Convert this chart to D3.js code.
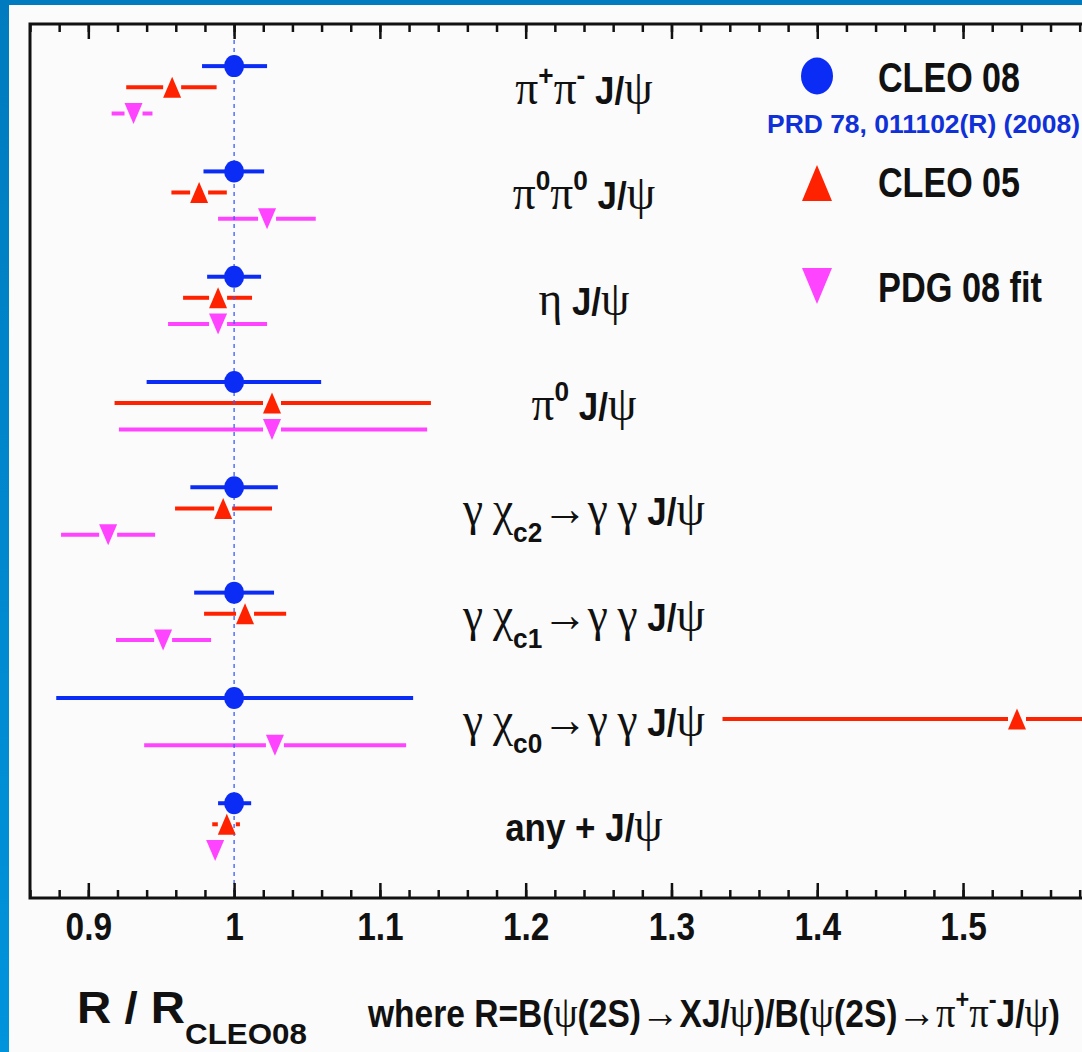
<!DOCTYPE html>
<html>
<head>
<meta charset="utf-8">
<script src="https://cdn.jsdelivr.net/npm/d3@7"></script>
<style>
  body { margin: 0; background: #fbfbfb; }
  svg { display: block; }
  text { white-space: pre; }
</style>
</head>
<body>
<svg id="chart"></svg>
<script>
// channels, written the ROOT TLatex way
var channels = [
  "#pi^{+}#pi^{-} J/#psi",
  "#pi^{0}#pi^{0} J/#psi",
  "#eta J/#psi",
  "#pi^{0} J/#psi",
  "#gamma #chi_{c2}#rightarrow#gamma #gamma J/#psi",
  "#gamma #chi_{c1}#rightarrow#gamma #gamma J/#psi",
  "#gamma #chi_{c0}#rightarrow#gamma #gamma J/#psi",
  "any + J/#psi"
];

// CLEO 08 (reference, so always 1)
var cleo08   = [1, 1, 1, 1, 1, 1, 1, 1];
var cleo08Lo = [0.978, 0.979, 0.9815, 0.940, 0.970, 0.9726, 0.878, 0.989];
var cleo08Hi = [1.0226, 1.0206, 1.0185, 1.0597, 1.030, 1.0274, 1.1228, 1.0117];

// CLEO 05
var cleo05   = [0.9575, 0.976, 0.989, 1.026, 0.9925, 1.0075, 1.537, 0.995];
var cleo05Lo = [0.926, 0.957, 0.965, 0.918, 0.9595, 0.9794, 1.335, 0.985];
var cleo05Hi = [0.988, 0.995, 1.0123, 1.135, 1.026, 1.0357, 1.739, 1.004];

// PDG 08 fit
var pdg08   = [0.931, 1.0226, 0.989, 1.026, 0.9136, 0.9513, 1.028, 0.987];
var pdg08Lo = [0.916, 0.989, 0.9547, 0.921, 0.8813, 0.919, 0.9383, 0.983];
var pdg08Hi = [0.944, 1.056, 1.0226, 1.1324, 0.9458, 0.9842, 1.118, 0.991];

var majorTicks = [0.9, 1, 1.1, 1.2, 1.3, 1.4, 1.5];
var legendNames = ["CLEO 08", "CLEO 05", "PDG 08 fit"];
var refText = "PRD 78, 011102(R) (2008)";
var xTitle = "R / R_{CLEO08}";
var xNote = "where R=B(#psi(2S)#rightarrowXJ/#psi)/B(#psi(2S)#rightarrow#pi^{+}#pi^{-}J/#psi)";

var W = 1082, H = 1052;
var sans = "'Liberation Sans', Arial, Helvetica, sans-serif";
var serif = "'Liberation Serif', 'DejaVu Serif', 'Times New Roman', serif";
var frame = {left: 30, top: 24, right: 1138, bottom: 898};

var x = d3.scaleLinear().domain([0.86, 1.62]).range([frame.left, frame.right]);
var y = d3.scaleLinear().domain([0.1, 8.4]).range([frame.bottom, frame.top]);
var rowY = function(i){ return channels.length - i; };

var series = [
  {name: legendNames[0], c: cleo08, lo: cleo08Lo, hi: cleo08Hi, color: "#0b2cf5", shape: "circle", off: 0},
  {name: legendNames[1], c: cleo05, lo: cleo05Lo, hi: cleo05Hi, color: "#ff2200", shape: "up", off: 0.2},
  {name: legendNames[2], c: pdg08, lo: pdg08Lo, hi: pdg08Hi, color: "#ff44ff", shape: "down", off: 0.45}
];

var svg = d3.select("#chart").attr("width", W).attr("height", H);
svg.append("rect").attr("width", W).attr("height", H).attr("fill", "#fbfbfb");

var defs = svg.append("defs");
defs.append("clipPath").attr("id", "plotclip").append("rect")
  .attr("x", frame.left).attr("y", frame.top)
  .attr("width", frame.right - frame.left).attr("height", frame.bottom - frame.top);
var grad = defs.append("linearGradient").attr("id", "edge").attr("x1", 0).attr("x2", 0).attr("y1", 0).attr("y2", 1);
grad.append("stop").attr("offset", "0%").attr("stop-color", "#007bbf");
grad.append("stop").attr("offset", "100%").attr("stop-color", "#0094dc");

// blue slide frame
svg.append("rect").attr("x", 0).attr("y", 0).attr("width", W).attr("height", 5).attr("fill", "#007bbf");
svg.append("rect").attr("x", 0).attr("y", 0).attr("width", 9).attr("height", H).attr("fill", "url(#edge)");

function markerPath(shape, w, h){
  if (shape === "circle") {
    return "M" + (-w/2) + ",0A" + (w/2) + "," + (h/2) + " 0 1,0 " + (w/2) + ",0A" + (w/2) + "," + (h/2) + " 0 1,0 " + (-w/2) + ",0Z";
  }
  if (shape === "up") return "M0," + (-h/2) + "L" + (w/2) + "," + (h/2) + "L" + (-w/2) + "," + (h/2) + "Z";
  return "M0," + (h/2) + "L" + (w/2) + "," + (-h/2) + "L" + (-w/2) + "," + (-h/2) + "Z";
}

var plot = svg.append("g").attr("clip-path", "url(#plotclip)");

// error bars, left and right of the marker
series.forEach(function(s){
  var gap = 9;
  var rows = s.c.map(function(v, i){ return i; });
  var g = plot.append("g").attr("stroke", s.color).attr("stroke-width", 4);
  g.selectAll("line.left").data(rows).enter().append("line").attr("class", "left")
    .attr("x1", function(i){ return x(s.lo[i]); })
    .attr("x2", function(i){ return Math.max(x(s.lo[i]), x(s.c[i]) - gap); })
    .attr("y1", function(i){ return y(rowY(i) - s.off); })
    .attr("y2", function(i){ return y(rowY(i) - s.off); });
  g.selectAll("line.right").data(rows).enter().append("line").attr("class", "right")
    .attr("x1", function(i){ return Math.min(x(s.hi[i]), x(s.c[i]) + gap); })
    .attr("x2", function(i){ return x(s.hi[i]); })
    .attr("y1", function(i){ return y(rowY(i) - s.off); })
    .attr("y2", function(i){ return y(rowY(i) - s.off); });
});

// reference line at R/R_CLEO08 = 1
plot.append("line")
  .attr("x1", x(1)).attr("x2", x(1)).attr("y1", frame.top).attr("y2", frame.bottom)
  .attr("stroke", "#3a5cff").attr("stroke-width", 1.3).attr("stroke-dasharray", "4,4");

series.forEach(function(s){
  var w = s.shape === "circle" ? 20 : 18, h = s.shape === "circle" ? 22 : 21;
  plot.append("g").selectAll("path").data(s.c).enter().append("path")
    .attr("d", markerPath(s.shape, w, h))
    .attr("fill", s.color)
    .attr("transform", function(v, i){ return "translate(" + x(v) + "," + y(rowY(i) - s.off) + ")"; });
});

// axes: ticks on top and bottom, inside
function tickAxis(axis, pos, values, len){
  var g = svg.append("g").attr("transform", "translate(0," + pos + ")")
    .call(axis(x).tickValues(values).tickSize(-len).tickPadding(15).tickFormat(d3.format("~g")));
  g.select(".domain").remove();
  g.selectAll("line").attr("stroke", "#111").attr("stroke-width", 2.5);
  return g;
}
var minorTicks = d3.range(43, 82).map(function(k){ return k / 50; });
tickAxis(d3.axisBottom, frame.bottom, minorTicks, 8).selectAll("text").remove();
tickAxis(d3.axisTop, frame.top, minorTicks, 8).selectAll("text").remove();
tickAxis(d3.axisTop, frame.top, majorTicks, 15).selectAll("text").remove();
tickAxis(d3.axisBottom, frame.bottom, majorTicks, 15).selectAll("text")
  .attr("font-family", sans).attr("font-weight", "bold").attr("font-size", 38)
  .attr("transform", "scale(0.88,1)")
  .attr("fill", "#111");

svg.append("rect")
  .attr("x", frame.left).attr("y", frame.top)
  .attr("width", frame.right - frame.left).attr("height", frame.bottom - frame.top)
  .attr("fill", "none").attr("stroke", "#111").attr("stroke-width", 3);

// tiny TLatex reader: #greek, ^{sup}, _{sub}
var greek = {pi: "\u03c0", eta: "\u03b7", gamma: "\u03b3", chi: "\u03c7", psi: "\u03c8", rightarrow: "\u2192"};
function parseLatex(s){
  var out = [], buf = "", i = 0;
  function flush(){ if (buf) { out.push({t: buf, k: "txt"}); buf = ""; } }
  while (i < s.length) {
    var ch = s[i];
    if (ch === "#") {
      flush();
      var m = /^#([a-z]+)/.exec(s.slice(i));
      out.push({t: greek[m[1]], k: "grk"});
      i += m[0].length;
    } else if ((ch === "^" || ch === "_") && s[i + 1] === "{") {
      flush();
      var j = s.indexOf("}", i);
      out.push({t: s.slice(i + 2, j), k: ch === "^" ? "sup" : "sub"});
      i = j + 1;
    } else { buf += ch; i++; }
  }
  flush();
  return out;
}

function latex(parent, s, size, o){
  o = Object.assign({greek: 1.3, sup: 0.75, sub: 0.75, supShift: 0.5, subShift: 0.45}, o || {});
  var t = parent.append("text").attr("font-family", sans).attr("font-weight", "bold")
    .attr("font-size", size).attr("fill", "#111");
  var shift = 0;
  parseLatex(s).forEach(function(p){
    var ts = t.append("tspan").text(p.t);
    var target = 0;
    if (p.k === "grk") ts.attr("font-family", serif).attr("font-weight", "normal").attr("font-size", size * o.greek);
    if (p.k === "sup") { ts.attr("font-size", size * o.sup); target = -size * o.supShift; }
    if (p.k === "sub") { ts.attr("font-size", size * o.sub); target = size * o.subShift; }
    if (target !== shift) { ts.attr("dy", target - shift); shift = target; }
  });
  return t;
}

// left edge at lx, squeezed horizontally by sx
function place(t, lx, base, sx){
  t.attr("transform", "translate(" + lx + "," + base + ") scale(" + sx + ",1)");
}
function fit(t, lx, base, width){
  place(t, lx, base, width / t.node().getComputedTextLength());
}

// channel labels, centred, a little condensed like the ROOT font
var labelX = 584, condense = 0.92;
channels.forEach(function(c, i){
  var t = latex(svg, c, 38);
  var w = t.node().getComputedTextLength() * condense;
  place(t, labelX - w / 2, y(rowY(i) - 0.36), condense);
});

// legend
var legendX = 817, legendTextX = 878;
var legendRows = [{y: 76, base: 92, len: 142}, {y: 183, base: 197, len: 142}, {y: 286, base: 302, len: 164}];
series.forEach(function(s, k){
  var L = legendRows[k];
  var w = s.shape === "circle" ? 32 : 30, h = s.shape === "circle" ? 37 : 36;
  svg.append("path").attr("d", markerPath(s.shape, w, h)).attr("fill", s.color)
    .attr("transform", "translate(" + legendX + "," + L.y + ")");
  svg.append("text").attr("x", legendTextX).attr("y", L.base)
    .attr("font-family", sans).attr("font-weight", "bold").attr("font-size", 42).attr("fill", "#111")
    .attr("textLength", L.len).attr("lengthAdjust", "spacingAndGlyphs")
    .text(s.name);
});
svg.append("text").attr("x", 767).attr("y", 133)
  .attr("font-family", sans).attr("font-weight", "bold").attr("font-size", 25).attr("fill", "#1030d8")
  .attr("textLength", 313).attr("lengthAdjust", "spacingAndGlyphs")
  .text(refText);

// x title and the definition of R
fit(latex(svg, xTitle, 44, {sub: 0.66, subShift: 0.48}), 77, 1023, 230);
fit(latex(svg, xNote, 38, {greek: 1.15, sup: 0.7}), 368, 1027, 692);
</script>
</body>
</html>
